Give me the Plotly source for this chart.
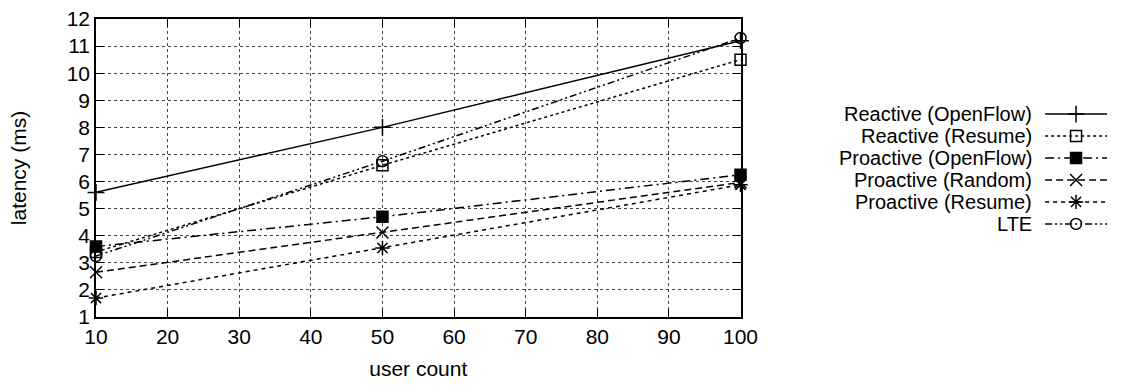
import plotly.graph_objects as go

# Latency measurements per user count
user_count = [10, 50, 100]
series_names = [
    "Reactive (OpenFlow)",
    "Reactive (Resume)",
    "Proactive (OpenFlow)",
    "Proactive (Random)",
    "Proactive (Resume)",
    "LTE",
]
reactive_openflow = [5.6, 8.0, 11.2]
reactive_resume = [3.4, 6.6, 10.5]
proactive_openflow = [3.6, 4.7, 6.25]
proactive_random = [2.65, 4.12, 5.97]
proactive_resume = [1.7, 3.55, 5.88]
lte = [3.25, 6.75, 11.3]

x_ticks = [10, 20, 30, 40, 50, 60, 70, 80, 90, 100]
y_ticks = list(range(1, 13))

values = [reactive_openflow, reactive_resume, proactive_openflow,
          proactive_random, proactive_resume, lte]

styles = [
    dict(dash="solid", symbol="cross-thin", size=12),
    dict(dash="dot", symbol="square-open", size=11),
    dict(dash="9px,4px,2px,4px", symbol="square", size=11),
    dict(dash="7px,4px", symbol="x-thin", size=12),
    dict(dash="4px,4px", symbol="asterisk", size=12),
    dict(dash="7px,3px,2px,3px,2px,3px", symbol="circle-open", size=11),
]

FONT = "Liberation Sans"
FS = 21
KEY_FS = 20
W, H = 1132, 388
L, R, T, B = 96, 7, 13, 71
plot_w = W - L - R
main_right = 752
leg_left = 1062
text_right = 1050

fig = go.Figure()

for name, ys, st in zip(series_names, values, styles):
    fig.add_trace(go.Scatter(
        x=user_count, y=ys, name=name, mode="lines+markers",
        line=dict(color="black", width=1.5, dash=st["dash"]),
        marker=dict(symbol=st["symbol"], size=st["size"], color="black",
                    line=dict(color="black", width=1.5)),
        showlegend=False, xaxis="x", yaxis="y", cliponaxis=False,
    ))

# Key: line samples on a hidden axis, labels right-aligned to their left
row_px0, row_step = 110, 22.4
top_val = (T - row_px0) / row_step
bot_val = (H - B - row_px0) / row_step
for i, (name, st) in enumerate(zip(series_names, styles)):
    fig.add_trace(go.Scatter(
        x=[0, 1], y=[i, i], mode="lines",
        line=dict(color="black", width=1.5, dash=st["dash"]),
        showlegend=False, hoverinfo="skip", xaxis="x2", yaxis="y2",
    ))
    fig.add_trace(go.Scatter(
        x=[0.5], y=[i], mode="markers",
        marker=dict(symbol=st["symbol"], size=st["size"], color="black",
                    line=dict(color="black", width=1.5)),
        showlegend=False, hoverinfo="skip", xaxis="x2", yaxis="y2",
    ))
    fig.add_annotation(
        x=(text_right - L) / plot_w, xref="paper", y=i, yref="y2",
        text=name, showarrow=False, xanchor="right", yanchor="middle",
        borderpad=0, font=dict(family=FONT, size=KEY_FS, color="black"),
    )

axis_common = dict(
    showline=True, linecolor="black", linewidth=1.5, mirror="ticks",
    ticks="inside", ticklen=8, tickwidth=1.2, tickcolor="black",
    showgrid=True, gridcolor="#444444", griddash="dot", gridwidth=1,
    zeroline=False, tickfont=dict(family=FONT, size=FS, color="black"),
)

fig.update_layout(
    width=W, height=H,
    margin=dict(l=L, r=R, t=T, b=B),
    plot_bgcolor="white", paper_bgcolor="white",
    font=dict(family=FONT, color="black"),
    xaxis=dict(
        domain=[0, (main_right - L) / plot_w], range=[10, 100],
        tickvals=x_ticks,
        title=dict(text="user count", font=dict(family=FONT, size=FS), standoff=14),
        **axis_common,
    ),
    yaxis=dict(
        range=[1, 12], tickvals=y_ticks,
        title=dict(text="latency (ms)", font=dict(family=FONT, size=FS), standoff=34),
        **axis_common,
    ),
    xaxis2=dict(domain=[(leg_left - L) / plot_w, 1], range=[0, 1], visible=False,
                anchor="y2"),
    yaxis2=dict(domain=[0, 1], range=[bot_val, top_val], visible=False,
                anchor="x2"),
)

fig.write_html("out.html")
